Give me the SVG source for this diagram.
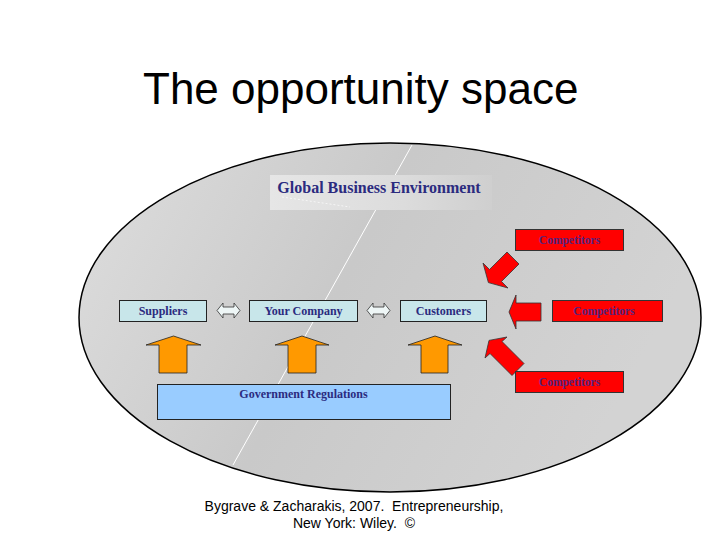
<svg xmlns="http://www.w3.org/2000/svg" width="720" height="540" viewBox="0 0 720 540">
<style>
.serif{font-family:"Liberation Serif","Times New Roman",serif;font-weight:bold}
.sans{font-family:"Liberation Sans",Arial,sans-serif}
.box{fill:#c8e6ea;stroke:#222;stroke-width:1}
.boxtxt{font-size:12px;fill:#2b2b7f;text-anchor:middle}
.comp{fill:#ff0000;stroke:#333;stroke-width:1}
.comptxt{font-size:11.5px;fill:#55227f;text-anchor:middle}
.red{fill:#ff0000;stroke:#333;stroke-width:0.8}
.orange{fill:#ff9900;stroke:#222;stroke-width:0.8}
.dbl{fill:#eef6f6;stroke:#333;stroke-width:0.8}
</style>
<defs>
<linearGradient id="ell" x1="0" y1="0" x2="1" y2="0.3">
<stop offset="0" stop-color="#dedede"/>
<stop offset="0.5" stop-color="#c9c9c9"/>
<stop offset="1" stop-color="#d3d3d3"/>
</linearGradient>
<linearGradient id="gbe" x1="0" y1="0" x2="1" y2="0">
<stop offset="0" stop-color="#e6e6e6"/>
<stop offset="0.6" stop-color="#dcdcdc"/>
<stop offset="1" stop-color="#cfcfcf"/>
</linearGradient>
</defs>
<rect width="720" height="540" fill="#ffffff"/>
<text class="sans" x="143" y="104" font-size="44" fill="#000">The opportunity space</text>
<g id="environment">
<ellipse cx="390" cy="317.5" rx="311" ry="174.5" fill="url(#ell)" stroke="#000" stroke-width="1.5"/>
<line x1="412" y1="145" x2="233" y2="465" stroke="#ffffff" stroke-width="1"/>
</g>
<g id="gbe-label">
<rect x="270" y="175" width="222" height="35" fill="url(#gbe)"/>
<line x1="282" y1="197" x2="350" y2="207" stroke="#ffffff" stroke-width="1" stroke-dasharray="2,2" opacity="0.7"/>
<text class="serif" x="379" y="193" font-size="16" fill="#2b2b7f" text-anchor="middle">Global Business Environment</text>
</g>
<g id="connectors">
<polygon class="dbl" points="217,310.5 223,303 223,307 234,307 234,303 240,310.5 234,318 234,314 223,314 223,318"/>
<polygon class="dbl" points="367,310.5 373,303 373,307 384,307 384,303 390,310.5 384,318 384,314 373,314 373,318"/>
<polygon class="orange" points="173.5,336 201,345 187,345 187,373 159,373 159,345 146,345"/>
<polygon class="orange" points="302,336 329,345 316,345 316,373 288,373 288,345 275,345"/>
<polygon class="orange" points="435,336 462,345 448,345 448,373 421,373 421,345 408,345"/>
<polygon class="red" points="507,252 519,264 501.5,281.5 508,288 488.4,282.6 483,263 489.5,269.5"/>
<polygon class="red" points="541,303 541,321 516,321 516,329 509,312 516,295 516,303"/>
<polygon class="red" points="512,375.5 524,363.5 502,341.5 507,337 489,340.4 485,358 490,353.5"/>
</g>
<g id="suppliers">
<rect class="box" x="119.5" y="300.5" width="87" height="21"/>
<text class="serif boxtxt" x="163" y="315">Suppliers</text>
</g>
<g id="company">
<rect class="box" x="249.5" y="300.5" width="108" height="21"/>
<text class="serif boxtxt" x="303.5" y="315">Your Company</text>
</g>
<g id="customers">
<rect class="box" x="400.5" y="300.5" width="86" height="21"/>
<text class="serif boxtxt" x="443.5" y="315">Customers</text>
</g>
<g id="competitors-top">
<rect class="comp" x="515.5" y="229.5" width="108" height="21"/>
<text class="serif comptxt" x="569.5" y="244">Competitors</text>
</g>
<g id="competitors-mid">
<rect class="comp" x="552.5" y="300.5" width="110" height="21"/>
<text class="serif comptxt" x="604" y="315">Competitors</text>
</g>
<g id="competitors-bottom">
<rect class="comp" x="515.5" y="371.5" width="108" height="21"/>
<text class="serif comptxt" x="569.5" y="386">Competitors</text>
</g>
<g id="government">
<rect x="157.5" y="384.5" width="293" height="35" fill="#99ccff" stroke="#222" stroke-width="1"/>
<text class="serif boxtxt" x="303.5" y="398">Government Regulations</text>
</g>
<g id="citation">
<text class="sans" x="354" y="511" font-size="14" fill="#000" text-anchor="middle" xml:space="preserve">Bygrave &amp; Zacharakis, 2007.  Entrepreneurship,</text>
<text class="sans" x="354" y="528" font-size="14" fill="#000" text-anchor="middle" xml:space="preserve">New York: Wiley.  ©</text>
</g>
</svg>
